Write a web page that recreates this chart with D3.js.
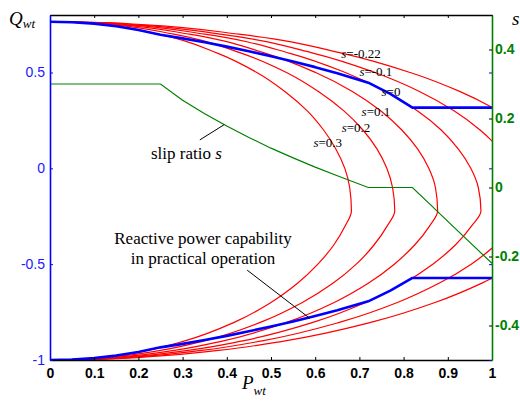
<!DOCTYPE html>
<html>
<head>
<meta charset="utf-8">
<script src="https://cdn.jsdelivr.net/npm/d3@7"></script>
<style>
  body { margin: 0; background: #fff; }
  svg { display: block; }
</style>
</head>
<body>
<div id="chart"></div>
<script>
// Data

    // ticks
    var xTicks = [0, 0.1, 0.2, 0.3, 0.4, 0.5, 0.6, 0.7, 0.8, 0.9, 1];
    var qTicks = [0.5, 0, -0.5, -1];
    var sTicks = [0.4, 0.2, 0, -0.2, -0.4];

    // capability curves: Q from top, through the nose, to the bottom
    var capQ = [0.765, 0.76, 0.75, 0.7, 0.6, 0.5, 0.4, 0.3, 0.2, 0.1, 0, -0.1, -0.2226,
                -0.3, -0.4, -0.5, -0.6, -0.7, -0.8, -0.9, -0.95, -0.98, -0.995, -1];

    // P of each curve at the Q values above
    var capP_s03  = [0, 0.069, 0.119, 0.245, 0.380, 0.468, 0.532, 0.582, 0.619, 0.647, 0.667, 0.678, 0.682,
                     0.668, 0.642, 0.606, 0.560, 0.500, 0.420, 0.305, 0.219, 0.139, 0.070, 0];
    var capP_s02  = [0, 0.079, 0.136, 0.280, 0.434, 0.535, 0.608, 0.665, 0.708, 0.740, 0.762, 0.775, 0.780,
                     0.763, 0.733, 0.693, 0.640, 0.571, 0.480, 0.349, 0.250, 0.159, 0.080, 0];
    var capP_s01  = [0, 0.089, 0.153, 0.315, 0.488, 0.601, 0.685, 0.748, 0.796, 0.832, 0.857, 0.872, 0.877,
                     0.859, 0.825, 0.779, 0.720, 0.643, 0.540, 0.392, 0.281, 0.179, 0.090, 0];
    var capP_s0   = [0, 0.099, 0.170, 0.350, 0.543, 0.668, 0.761, 0.831, 0.885, 0.924, 0.952, 0.969, 0.975,
                     0.954, 0.917, 0.866, 0.800, 0.714, 0.600, 0.436, 0.312, 0.199, 0.100, 0];
    var capP_sm01 = [0, 0.108, 0.187, 0.385, 0.597, 0.735, 0.837, 0.914, 0.973, 1.017, 1.047, 1.066, 1.072,
                     1.049, 1.008, 0.953, 0.880, 0.786, 0.660, 0.480, 0.343, 0.219, 0.110, 0];
    var capP_sm022 = [0, 0.120, 0.207, 0.427, 0.662, 0.815, 0.928, 1.014, 1.079, 1.128, 1.162, 1.182, 1.189,
                      1.164, 1.118, 1.057, 0.976, 0.871, 0.732, 0.532, 0.381, 0.243, 0.122, 0];

    var capCurves = [capP_s03, capP_s02, capP_s01, capP_s0, capP_sm01, capP_sm022];

    // curve labels
    var capLabels = ["=-0.22", "=-0.1", "=0", "=0.1", "=0.2", "=0.3"];
    var capLabelP = [0.659, 0.700, 0.750, 0.705, 0.660, 0.596];
    var capLabelQ = [0.575, 0.481, 0.377, 0.273, 0.190, 0.112];

    // practical operation (blue)
    var blueP      = [0, 0.05, 0.1, 0.15, 0.2, 0.25, 0.3, 0.35, 0.4, 0.45, 0.5, 0.55, 0.6, 0.65, 0.72, 0.77, 0.82, 1];
    var blueUpperQ = [0.765, 0.762, 0.755, 0.741, 0.722, 0.697, 0.678, 0.658, 0.635, 0.611, 0.585, 0.557, 0.528, 0.496, 0.447, 0.388, 0.317, 0.317];
    var blueLowerQ = [-1, -0.997, -0.990, -0.977, -0.958, -0.934, -0.916, -0.896, -0.874, -0.850, -0.825, -0.799, -0.770, -0.740, -0.694, -0.638, -0.572, -0.572];

    // slip ratio (green, right axis)
    var slipP = [0, 0.25, 0.3, 0.35, 0.4, 0.45, 0.5, 0.55, 0.6, 0.65, 0.72, 0.82, 0.86, 0.9, 0.95, 1];
    var slipS = [0.3, 0.3, 0.253, 0.214, 0.178, 0.145, 0.114, 0.086, 0.059, 0.034, 0, 0, -0.049, -0.098, -0.159, -0.22];


// Layout

    var svgWidth  = 520;
    var svgHeight = 402;
    var plot = { left: 50, right: 492, top: 15, bottom: 360 };

    var serif = "'Liberation Serif', 'Times New Roman', serif";
    var sans  = "'Liberation Sans', Arial, sans-serif";

    var svg = d3.select("#chart")
        .append("svg")
            .attr("width", svgWidth)
            .attr("height", svgHeight);

    svg.append("clipPath")
        .attr("id", "plotClip")
        .append("rect")
            .attr("x", plot.left)
            .attr("y", plot.top)
            .attr("width", plot.right - plot.left)
            .attr("height", plot.bottom - plot.top);

    // scales
    var x  = d3.scaleLinear().domain([0, 1]).range([plot.left, plot.right]);
    var yQ = d3.scaleLinear().domain([-1, 0.8]).range([plot.bottom, plot.top]);
    var yS = d3.scaleLinear().domain([-0.5, 0.5]).range([plot.bottom, plot.top]);

    var fmt = function(d) { return String(d); };


// Curves

    var curves = svg.append("g").attr("clip-path", "url(#plotClip)");

    var capLine = d3.line()
        .x(function(d) { return x(d[0]); })
        .y(function(d) { return yQ(d[1]); })
        .curve(d3.curveMonotoneY);

    capCurves.forEach(function(pArr) {
        curves.append("path")
            .datum(pArr.map(function(p, i) { return [p, capQ[i]]; }))
            .attr("d", capLine)
            .attr("fill", "none")
            .attr("stroke", "#ff0000")
            .attr("stroke-width", 1.2);
    });

    // slip ratio
    var slipLine = d3.line()
        .x(function(d, i) { return x(slipP[i]); })
        .y(function(d) { return yS(d); });

    curves.append("path")
        .datum(slipS)
        .attr("d", slipLine)
        .attr("fill", "none")
        .attr("stroke", "#008000")
        .attr("stroke-width", 1.2);

    // practical capability
    var blueLine = d3.line()
        .x(function(d, i) { return x(blueP[i]); })
        .y(function(d) { return yQ(d); });

    [blueUpperQ, blueLowerQ].forEach(function(qArr) {
        curves.append("path")
            .datum(qArr)
            .attr("d", blueLine)
            .attr("fill", "none")
            .attr("stroke", "#0000ff")
            .attr("stroke-width", 2.6)
            .attr("stroke-linejoin", "round");
    });


// Axes

    // top and bottom (black)
    var xAxisBottom = svg.append("g")
        .attr("transform", "translate(0," + plot.bottom + ")")
        .call(d3.axisBottom(x).tickValues(xTicks).tickFormat(fmt).tickSize(-3).tickSizeOuter(0).tickPadding(8));
    xAxisBottom.selectAll("text")
        .attr("font-family", sans)
        .attr("font-size", 14)
        .attr("font-weight", "bold")
        .attr("fill", "#000");

    svg.append("g")
        .attr("transform", "translate(0," + plot.top + ")")
        .call(d3.axisTop(x).tickValues(xTicks).tickFormat("").tickSize(-3).tickSizeOuter(0));

    // blue ticks mirrored on the right side
    svg.append("g")
        .attr("class", "qMirror")
        .attr("transform", "translate(" + plot.right + ",0)")
        .call(d3.axisRight(yQ).tickValues(qTicks).tickFormat("").tickSize(-3).tickSizeOuter(0));
    svg.select(".qMirror .domain").remove();
    svg.selectAll(".qMirror line").attr("stroke", "#0000ff");

    // left Q axis (blue)
    var yAxisLeft = svg.append("g")
        .attr("transform", "translate(" + plot.left + ",0)")
        .call(d3.axisLeft(yQ).tickValues(qTicks).tickFormat(fmt).tickSize(-3).tickSizeOuter(0).tickPadding(5));
    yAxisLeft.select(".domain").attr("stroke", "#0000ff");
    yAxisLeft.selectAll("line").attr("stroke", "#0000ff");
    yAxisLeft.selectAll("text")
        .attr("font-family", sans)
        .attr("font-size", 14)
        .attr("fill", "#1a1aff");

    // right s axis (green)
    var yAxisRight = svg.append("g")
        .attr("transform", "translate(" + plot.right + ",0)")
        .call(d3.axisRight(yS).tickValues(sTicks).tickFormat(fmt).tickSize(-3).tickSizeOuter(0).tickPadding(3));
    yAxisRight.select(".domain").attr("stroke", "#008000");
    yAxisRight.selectAll("line").attr("stroke", "#000");
    yAxisRight.selectAll("text")
        .attr("font-family", sans)
        .attr("font-size", 14)
        .attr("font-weight", "bold")
        .attr("fill", "#008000");

    svg.selectAll(".domain").attr("stroke-width", 1.6);


// Labels

    // axis titles
    var qTitle = svg.append("text")
        .attr("x", 9).attr("y", 25)
        .attr("font-family", serif)
        .attr("font-style", "italic")
        .attr("font-size", 19);
    qTitle.append("tspan").text("Q");
    qTitle.append("tspan").attr("font-size", 13).attr("dy", 3).text("wt");

    var pTitle = svg.append("text")
        .attr("x", 242).attr("y", 389)
        .attr("font-family", serif)
        .attr("font-style", "italic")
        .attr("font-size", 19);
    pTitle.append("tspan").text("P");
    pTitle.append("tspan").attr("font-size", 13).attr("dy", 6).text("wt");

    svg.append("text")
        .attr("x", 512).attr("y", 25)
        .attr("font-family", serif)
        .attr("font-style", "italic")
        .attr("font-size", 19)
        .text("s");

    // slip labels on curves
    capLabels.forEach(function(lbl, i) {
        var t = svg.append("text")
            .attr("x", x(capLabelP[i]))
            .attr("y", yQ(capLabelQ[i]))
            .attr("font-family", serif)
            .attr("font-size", 13);
        t.append("tspan").attr("font-style", "italic").text("s");
        t.append("tspan").text(lbl);
    });

    // slip ratio note
    var slipNote = svg.append("text")
        .attr("x", 151).attr("y", 159)
        .attr("font-family", serif)
        .attr("font-size", 17);
    slipNote.append("tspan").text("slip ratio ");
    slipNote.append("tspan").attr("font-style", "italic").text("s");

    svg.append("line")
        .attr("x1", x(0.339)).attr("y1", yS(0.138))
        .attr("x2", x(0.394)).attr("y2", yS(0.182))
        .attr("stroke", "#000").attr("stroke-width", 1);

    // practical operation note
    svg.append("text")
        .attr("x", 203).attr("y", 244)
        .attr("text-anchor", "middle")
        .attr("font-family", serif)
        .attr("font-size", 17)
        .text("Reactive power capability");
    svg.append("text")
        .attr("x", 203).attr("y", 264)
        .attr("text-anchor", "middle")
        .attr("font-family", serif)
        .attr("font-size", 17)
        .text("in practical operation");

    svg.append("line")
        .attr("x1", x(0.446)).attr("y1", yQ(-0.531))
        .attr("x2", x(0.588)).attr("y2", yQ(-0.783))
        .attr("stroke", "#000").attr("stroke-width", 1);
</script>
</body>
</html>
